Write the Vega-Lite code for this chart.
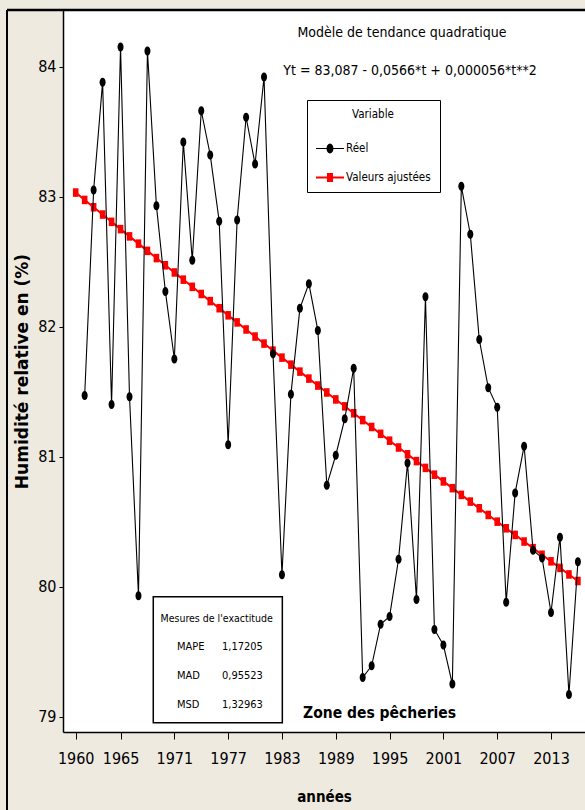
{
  "$schema": "https://vega.github.io/schema/vega-lite/v6.json",
  "width": 522,
  "height": 722,
  "autosize": "none",
  "padding": {"left": 63, "top": 10, "right": 0, "bottom": 78},
  "background": "#EEEAE0",
  "config": {
    "view": {"stroke": null, "fill": "white"},
    "font": "Liberation Sans Narrow, DejaVu Sans Condensed, sans-serif"
  },
  "data": {
    "values": [
      {"annee": 1960, "serie": "Valeurs ajustées", "valeur": 83.0305},
      {"annee": 1961, "serie": "Valeurs ajustées", "valeur": 82.9740},
      {"annee": 1962, "serie": "Valeurs ajustées", "valeur": 82.9177},
      {"annee": 1963, "serie": "Valeurs ajustées", "valeur": 82.8615},
      {"annee": 1964, "serie": "Valeurs ajustées", "valeur": 82.8054},
      {"annee": 1965, "serie": "Valeurs ajustées", "valeur": 82.7494},
      {"annee": 1966, "serie": "Valeurs ajustées", "valeur": 82.6935},
      {"annee": 1967, "serie": "Valeurs ajustées", "valeur": 82.6378},
      {"annee": 1968, "serie": "Valeurs ajustées", "valeur": 82.5821},
      {"annee": 1969, "serie": "Valeurs ajustées", "valeur": 82.5266},
      {"annee": 1970, "serie": "Valeurs ajustées", "valeur": 82.4712},
      {"annee": 1971, "serie": "Valeurs ajustées", "valeur": 82.4159},
      {"annee": 1972, "serie": "Valeurs ajustées", "valeur": 82.3607},
      {"annee": 1973, "serie": "Valeurs ajustées", "valeur": 82.3056},
      {"annee": 1974, "serie": "Valeurs ajustées", "valeur": 82.2506},
      {"annee": 1975, "serie": "Valeurs ajustées", "valeur": 82.1957},
      {"annee": 1976, "serie": "Valeurs ajustées", "valeur": 82.1410},
      {"annee": 1977, "serie": "Valeurs ajustées", "valeur": 82.0863},
      {"annee": 1978, "serie": "Valeurs ajustées", "valeur": 82.0318},
      {"annee": 1979, "serie": "Valeurs ajustées", "valeur": 81.9774},
      {"annee": 1980, "serie": "Valeurs ajustées", "valeur": 81.9231},
      {"annee": 1981, "serie": "Valeurs ajustées", "valeur": 81.8689},
      {"annee": 1982, "serie": "Valeurs ajustées", "valeur": 81.8148},
      {"annee": 1983, "serie": "Valeurs ajustées", "valeur": 81.7609},
      {"annee": 1984, "serie": "Valeurs ajustées", "valeur": 81.7070},
      {"annee": 1985, "serie": "Valeurs ajustées", "valeur": 81.6533},
      {"annee": 1986, "serie": "Valeurs ajustées", "valeur": 81.5996},
      {"annee": 1987, "serie": "Valeurs ajustées", "valeur": 81.5461},
      {"annee": 1988, "serie": "Valeurs ajustées", "valeur": 81.4927},
      {"annee": 1989, "serie": "Valeurs ajustées", "valeur": 81.4394},
      {"annee": 1990, "serie": "Valeurs ajustées", "valeur": 81.3862},
      {"annee": 1991, "serie": "Valeurs ajustées", "valeur": 81.3331},
      {"annee": 1992, "serie": "Valeurs ajustées", "valeur": 81.2802},
      {"annee": 1993, "serie": "Valeurs ajustées", "valeur": 81.2273},
      {"annee": 1994, "serie": "Valeurs ajustées", "valeur": 81.1746},
      {"annee": 1995, "serie": "Valeurs ajustées", "valeur": 81.1220},
      {"annee": 1996, "serie": "Valeurs ajustées", "valeur": 81.0695},
      {"annee": 1997, "serie": "Valeurs ajustées", "valeur": 81.0171},
      {"annee": 1998, "serie": "Valeurs ajustées", "valeur": 80.9648},
      {"annee": 1999, "serie": "Valeurs ajustées", "valeur": 80.9126},
      {"annee": 2000, "serie": "Valeurs ajustées", "valeur": 80.8605},
      {"annee": 2001, "serie": "Valeurs ajustées", "valeur": 80.8086},
      {"annee": 2002, "serie": "Valeurs ajustées", "valeur": 80.7567},
      {"annee": 2003, "serie": "Valeurs ajustées", "valeur": 80.7050},
      {"annee": 2004, "serie": "Valeurs ajustées", "valeur": 80.6534},
      {"annee": 2005, "serie": "Valeurs ajustées", "valeur": 80.6019},
      {"annee": 2006, "serie": "Valeurs ajustées", "valeur": 80.5505},
      {"annee": 2007, "serie": "Valeurs ajustées", "valeur": 80.4992},
      {"annee": 2008, "serie": "Valeurs ajustées", "valeur": 80.4481},
      {"annee": 2009, "serie": "Valeurs ajustées", "valeur": 80.3970},
      {"annee": 2010, "serie": "Valeurs ajustées", "valeur": 80.3461},
      {"annee": 2011, "serie": "Valeurs ajustées", "valeur": 80.2952},
      {"annee": 2012, "serie": "Valeurs ajustées", "valeur": 80.2445},
      {"annee": 2013, "serie": "Valeurs ajustées", "valeur": 80.1939},
      {"annee": 2014, "serie": "Valeurs ajustées", "valeur": 80.1434},
      {"annee": 2015, "serie": "Valeurs ajustées", "valeur": 80.0930},
      {"annee": 2016, "serie": "Valeurs ajustées", "valeur": 80.0427},
      {"annee": 1961, "serie": "Réel", "valeur": 81.47},
      {"annee": 1962, "serie": "Réel", "valeur": 83.05},
      {"annee": 1963, "serie": "Réel", "valeur": 83.88},
      {"annee": 1964, "serie": "Réel", "valeur": 81.40},
      {"annee": 1965, "serie": "Réel", "valeur": 84.15},
      {"annee": 1966, "serie": "Réel", "valeur": 81.46},
      {"annee": 1967, "serie": "Réel", "valeur": 79.93},
      {"annee": 1968, "serie": "Réel", "valeur": 84.12},
      {"annee": 1969, "serie": "Réel", "valeur": 82.93},
      {"annee": 1970, "serie": "Réel", "valeur": 82.27},
      {"annee": 1971, "serie": "Réel", "valeur": 81.75},
      {"annee": 1972, "serie": "Réel", "valeur": 83.42},
      {"annee": 1973, "serie": "Réel", "valeur": 82.51},
      {"annee": 1974, "serie": "Réel", "valeur": 83.66},
      {"annee": 1975, "serie": "Réel", "valeur": 83.32},
      {"annee": 1976, "serie": "Réel", "valeur": 82.81},
      {"annee": 1977, "serie": "Réel", "valeur": 81.09},
      {"annee": 1978, "serie": "Réel", "valeur": 82.82},
      {"annee": 1979, "serie": "Réel", "valeur": 83.61},
      {"annee": 1980, "serie": "Réel", "valeur": 83.25},
      {"annee": 1981, "serie": "Réel", "valeur": 83.92},
      {"annee": 1982, "serie": "Réel", "valeur": 81.79},
      {"annee": 1983, "serie": "Réel", "valeur": 80.09},
      {"annee": 1984, "serie": "Réel", "valeur": 81.48},
      {"annee": 1985, "serie": "Réel", "valeur": 82.14},
      {"annee": 1986, "serie": "Réel", "valeur": 82.33},
      {"annee": 1987, "serie": "Réel", "valeur": 81.97},
      {"annee": 1988, "serie": "Réel", "valeur": 80.78},
      {"annee": 1989, "serie": "Réel", "valeur": 81.01},
      {"annee": 1990, "serie": "Réel", "valeur": 81.29},
      {"annee": 1991, "serie": "Réel", "valeur": 81.68},
      {"annee": 1992, "serie": "Réel", "valeur": 79.30},
      {"annee": 1993, "serie": "Réel", "valeur": 79.39},
      {"annee": 1994, "serie": "Réel", "valeur": 79.71},
      {"annee": 1995, "serie": "Réel", "valeur": 79.77},
      {"annee": 1996, "serie": "Réel", "valeur": 80.21},
      {"annee": 1997, "serie": "Réel", "valeur": 80.95},
      {"annee": 1998, "serie": "Réel", "valeur": 79.90},
      {"annee": 1999, "serie": "Réel", "valeur": 82.23},
      {"annee": 2000, "serie": "Réel", "valeur": 79.67},
      {"annee": 2001, "serie": "Réel", "valeur": 79.55},
      {"annee": 2002, "serie": "Réel", "valeur": 79.25},
      {"annee": 2003, "serie": "Réel", "valeur": 83.08},
      {"annee": 2004, "serie": "Réel", "valeur": 82.71},
      {"annee": 2005, "serie": "Réel", "valeur": 81.90},
      {"annee": 2006, "serie": "Réel", "valeur": 81.53},
      {"annee": 2007, "serie": "Réel", "valeur": 81.38},
      {"annee": 2008, "serie": "Réel", "valeur": 79.88},
      {"annee": 2009, "serie": "Réel", "valeur": 80.72},
      {"annee": 2010, "serie": "Réel", "valeur": 81.08},
      {"annee": 2011, "serie": "Réel", "valeur": 80.28},
      {"annee": 2012, "serie": "Réel", "valeur": 80.22},
      {"annee": 2013, "serie": "Réel", "valeur": 79.80},
      {"annee": 2014, "serie": "Réel", "valeur": 80.38},
      {"annee": 2015, "serie": "Réel", "valeur": 79.17},
      {"annee": 2016, "serie": "Réel", "valeur": 80.19}
    ]
  },
  "layer": [
    {
      "transform": [{"filter": "datum.serie === 'Valeurs ajustées'"}],
      "mark": {"type": "line", "color": "#FF0000", "strokeWidth": 2},
      "encoding": {
        "x": {
          "field": "annee", "type": "quantitative",
          "scale": {"domain": [1958.584, 2016.79], "nice": false, "zero": false},
          "axis": {
            "values": [1960, 1965, 1971, 1977, 1983, 1989, 1995, 2001, 2007, 2013],
            "format": "d", "grid": false,
            "labelFont": "Liberation Sans Narrow, DejaVu Sans Condensed, sans-serif",
            "labelFontSize": 16, "labelColor": "black", "labelPadding": 11,
            "tickSize": 7, "tickColor": "black", "tickWidth": 1,
            "domainColor": "black", "domainWidth": 1.5,
            "title": "années",
            "titleFont": "Liberation Sans Narrow, DejaVu Sans Condensed, sans-serif",
            "titleFontSize": 15, "titleFontWeight": "bold", "titleColor": "black",
            "titlePadding": 23
          }
        },
        "y": {
          "field": "valeur", "type": "quantitative",
          "scale": {"domain": [78.881, 84.435], "nice": false, "zero": false},
          "axis": {
            "values": [79, 80, 81, 82, 83, 84], "format": "d", "grid": false,
            "labelFont": "Liberation Sans Narrow, DejaVu Sans Condensed, sans-serif",
            "labelFontSize": 16, "labelColor": "black", "labelPadding": 3,
            "tickSize": 4, "tickColor": "black", "tickWidth": 1,
            "domainColor": "black", "domainWidth": 1.5,
            "title": "Humidité relative en (%)",
            "titleFont": "DejaVu Sans", "titleFontSize": 17, "titleFontWeight": "bold",
            "titleColor": "black", "titlePadding": 6
          }
        }
      }
    },
    {
      "transform": [{"filter": "datum.serie === 'Valeurs ajustées'"}],
      "mark": {"type": "point", "filled": true, "opacity": 1, "size": 81, "strokeWidth": 0, "color": "#FF0000",
               "shape": "M-0.62,-0.95H0.62V0.95H-0.62Z"},
      "encoding": {
        "x": {"field": "annee", "type": "quantitative"},
        "y": {"field": "valeur", "type": "quantitative"}
      }
    },
    {
      "transform": [{"filter": "datum.serie === 'Réel'"}],
      "mark": {"type": "line", "color": "black", "strokeWidth": 1.1},
      "encoding": {
        "x": {"field": "annee", "type": "quantitative"},
        "y": {"field": "valeur", "type": "quantitative"}
      }
    },
    {
      "transform": [{"filter": "datum.serie === 'Réel'"}],
      "mark": {"type": "point", "filled": true, "opacity": 1, "size": 81, "strokeWidth": 0, "color": "black",
               "shape": "M-0.67,0A0.67,1 0 1,1 0.67,0A0.67,1 0 1,1 -0.67,0Z"},
      "encoding": {
        "x": {"field": "annee", "type": "quantitative"},
        "y": {"field": "valeur", "type": "quantitative"}
      }
    },
    {
      "mark": {"type": "point", "filled": true, "opacity": 1, "size": 0, "strokeWidth": 0},
      "encoding": {
        "x": {"field": "annee", "type": "quantitative"},
        "y": {"field": "valeur", "type": "quantitative"},
        "color": {
          "field": "serie", "type": "nominal",
          "scale": {"domain": ["Réel", "Valeurs ajustées"], "range": ["black", "#FF0000"]},
          "legend": {
            "title": "Variable", "orient": "none", "legendX": 244, "legendY": 90,
            "direction": "vertical", "padding": 9,
            "strokeColor": "black", "fillColor": "white", "cornerRadius": 0,
            "titleFont": "Liberation Sans Narrow, DejaVu Sans Condensed, sans-serif",
            "titleFontSize": 11.5, "titleFontWeight": "normal", "titleColor": "black",
            "titleAnchor": "middle", "titlePadding": 22,
            "labelFont": "Liberation Sans Narrow, DejaVu Sans Condensed, sans-serif",
            "labelFontSize": 11.5, "labelColor": "black", "labelOffset": 18,
            "symbolSize": 144, "symbolStrokeWidth": 0, "symbolOpacity": 1, "rowPadding": 17
          }
        },
        "shape": {
          "field": "serie", "type": "nominal",
          "scale": {
            "domain": ["Réel", "Valeurs ajustées"],
            "range": [
              "M-1,-0.09H3.67V0.09H-1ZM0.75,0A0.58,0.83 0 1,1 1.91,0A0.58,0.83 0 1,1 0.75,0Z",
              "M-1,-0.17H3.67V0.17H-1ZM0.83,-0.75H1.83V0.75H0.83Z"
            ]
          },
          "legend": null
        }
      }
    },
    {
      "data": {"values": [{}]},
      "mark": {"type": "rule", "color": "black", "strokeWidth": 2},
      "encoding": {
        "x": {"datum": 1952.34},
        "y": {"datum": 84.435},
        "y2": {"datum": 78.2}
      }
    },
    {
      "data": {"values": [{}]},
      "mark": {"type": "rule", "color": "black", "strokeWidth": 2.5},
      "encoding": {
        "x": {"datum": 1952.34},
        "x2": {"datum": 2020},
        "y": {"datum": 84.435}
      }
    },
    {
      "data": {"values": [{}]},
      "mark": {"type": "text", "align": "center", "baseline": "middle", "fontSize": 14, "color": "black",
               "font": "Liberation Sans Narrow, DejaVu Sans Condensed, sans-serif"},
      "encoding": {
        "x": {"datum": 1996.38},
        "y": {"datum": 84.258},
        "text": {"value": "Modèle de tendance quadratique"}
      }
    },
    {
      "data": {"values": [{}]},
      "mark": {"type": "text", "align": "center", "baseline": "middle", "fontSize": 14, "color": "black",
               "font": "Liberation Sans Narrow, DejaVu Sans Condensed, sans-serif"},
      "encoding": {
        "x": {"datum": 1997.28},
        "y": {"datum": 83.965},
        "text": {"value": "Yt = 83,087 - 0,0566*t + 0,000056*t**2"}
      }
    },
    {
      "data": {"values": [{}]},
      "mark": {"type": "text", "align": "left", "baseline": "alphabetic", "fontSize": 15.5, "fontWeight": "bold", "color": "black",
               "font": "Liberation Sans Narrow, DejaVu Sans Condensed, sans-serif"},
      "encoding": {
        "x": {"datum": 1985.35},
        "y": {"datum": 78.988},
        "text": {"value": "Zone des pêcheries"}
      }
    },
    {
      "data": {"values": [{}]},
      "mark": {"type": "rect", "fill": "white", "stroke": "black", "strokeWidth": 1.5},
      "encoding": {
        "x": {"datum": 1968.65},
        "x2": {"datum": 1983.04},
        "y": {"datum": 79.922},
        "y2": {"datum": 78.952}
      }
    },
    {
      "data": {"values": [{}]},
      "mark": {"type": "text", "align": "center", "baseline": "middle", "fontSize": 10.5, "color": "black",
               "font": "Liberation Sans Narrow, DejaVu Sans Condensed, sans-serif"},
      "encoding": {
        "x": {"datum": 1975.72},
        "y": {"datum": 79.75},
        "text": {"value": "Mesures de l'exactitude"}
      }
    },
    {
      "data": {"values": [{}]},
      "mark": {"type": "text", "align": "left", "baseline": "middle", "fontSize": 11, "color": "black", "lineHeight": 29,
               "font": "Liberation Sans Narrow, DejaVu Sans Condensed, sans-serif"},
      "encoding": {
        "x": {"datum": 1971.30},
        "y": {"datum": 79.535},
        "text": {"value": ["MAPE", "MAD", "MSD"]}
      }
    },
    {
      "data": {"values": [{}]},
      "mark": {"type": "text", "align": "left", "baseline": "middle", "fontSize": 11, "color": "black", "lineHeight": 29,
               "font": "Liberation Sans Narrow, DejaVu Sans Condensed, sans-serif"},
      "encoding": {
        "x": {"datum": 1976.31},
        "y": {"datum": 79.535},
        "text": {"value": ["1,17205", "0,95523", "1,32963"]}
      }
    }
  ]
}
